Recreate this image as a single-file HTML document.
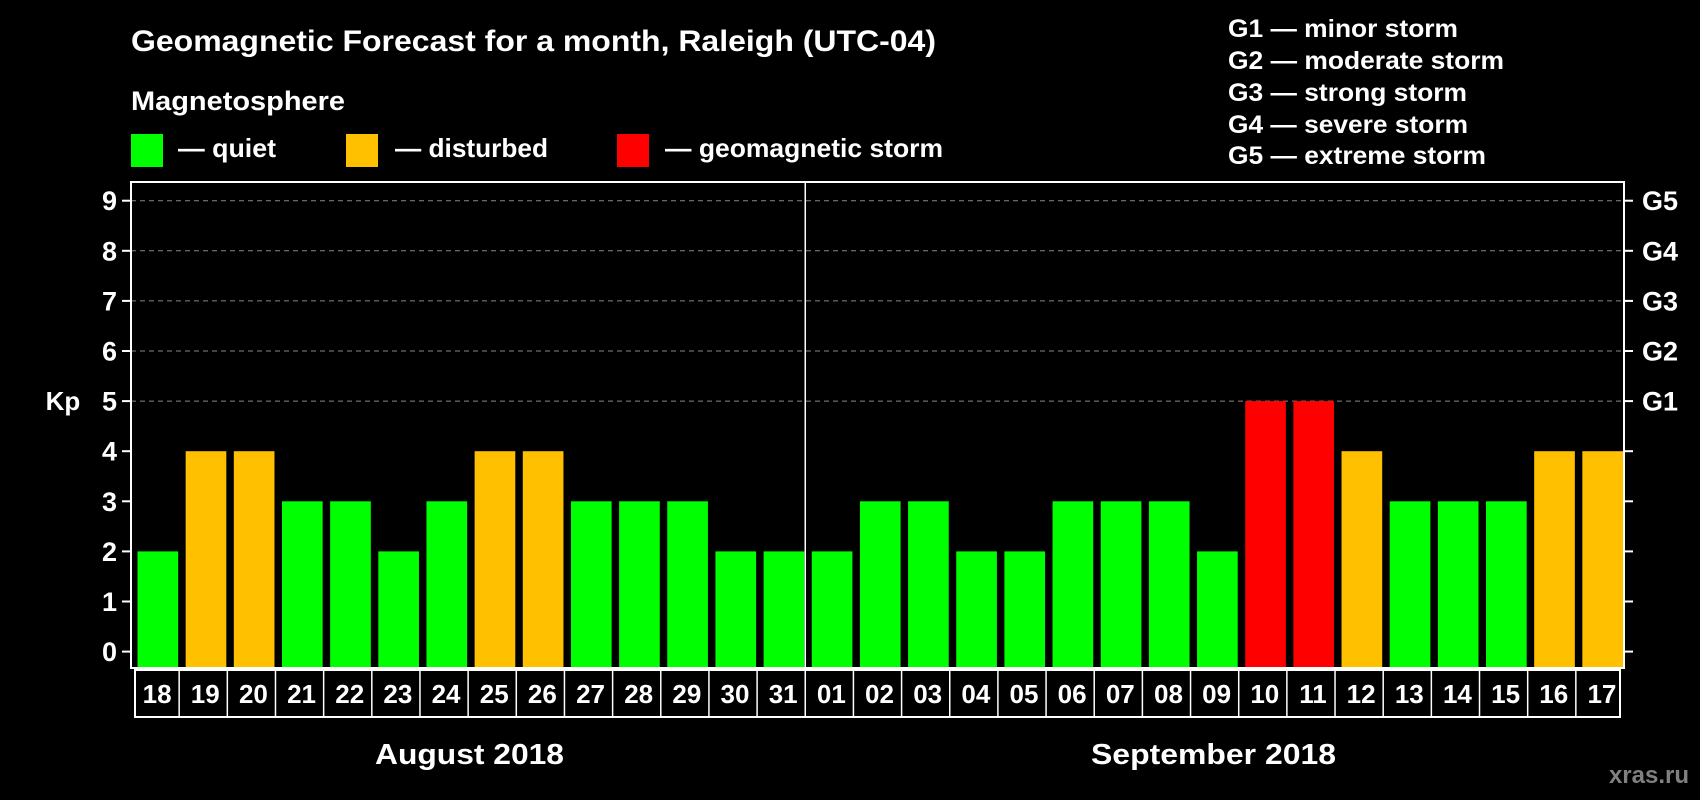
<!DOCTYPE html>
<html><head><meta charset="utf-8"><style>
html,body{margin:0;padding:0;background:#000;}
svg{display:block;font-family:"Liberation Sans",sans-serif;font-weight:bold;}
</style></head><body>
<svg id="c" width="1700" height="800" viewBox="0 0 1700 800">
<text x="131" y="51" fill="#fff" font-size="30" textLength="805" lengthAdjust="spacingAndGlyphs">Geomagnetic Forecast for a month, Raleigh (UTC-04)</text>
<text x="131" y="110" fill="#fff" font-size="27" textLength="214" lengthAdjust="spacingAndGlyphs">Magnetosphere</text>
<rect x="131" y="134" width="32" height="33" fill="#00ff00"/>
<text x="178" y="157" fill="#fff" font-size="26" textLength="98" lengthAdjust="spacingAndGlyphs">— quiet</text>
<rect x="346" y="134" width="32" height="33" fill="#ffc000"/>
<text x="395" y="157" fill="#fff" font-size="26" textLength="153" lengthAdjust="spacingAndGlyphs">— disturbed</text>
<rect x="617" y="134" width="32" height="33" fill="#ff0000"/>
<text x="665" y="157" fill="#fff" font-size="26" textLength="278" lengthAdjust="spacingAndGlyphs">— geomagnetic storm</text>
<g fill="#fff" font-size="25">
<text x="1228" y="37" textLength="230" lengthAdjust="spacingAndGlyphs">G1 — minor storm</text>
<text x="1228" y="69" textLength="276" lengthAdjust="spacingAndGlyphs">G2 — moderate storm</text>
<text x="1228" y="101" textLength="239" lengthAdjust="spacingAndGlyphs">G3 — strong storm</text>
<text x="1228" y="133" textLength="240" lengthAdjust="spacingAndGlyphs">G4 — severe storm</text>
<text x="1228" y="164" textLength="258" lengthAdjust="spacingAndGlyphs">G5 — extreme storm</text>
</g>
<text x="63" y="410" fill="#fff" font-size="26" text-anchor="middle">Kp</text>
<text x="375" y="764" fill="#fff" font-size="29" textLength="189" lengthAdjust="spacingAndGlyphs">August 2018</text>
<text x="1091" y="764" fill="#fff" font-size="29" textLength="245" lengthAdjust="spacingAndGlyphs">September 2018</text>
<text x="1689" y="783" fill="#808080" font-size="24" text-anchor="end">xras.ru</text>
<g id="plot"></g>
</svg>
<script>
const days = ["18","19","20","21","22","23","24","25","26","27","28","29","30","31","01","02","03","04","05","06","07","08","09","10","11","12","13","14","15","16","17"];
const kpValues = [2,4,4,3,3,2,3,4,4,3,3,3,2,2,2,3,3,2,2,3,3,3,2,5,5,4,3,3,3,4,4];
const yTicks = [0,1,2,3,4,5,6,7,8,9];
const gLabels = ["G1","G2","G3","G4","G5"];
const gLevels = [5,6,7,8,9];
const monthSplitIndex = 14;

const NS="http://www.w3.org/2000/svg";
const L=131,R=1624,T=182,B=668;
const slot=(R-L)/days.length;
const y0=651.6, unit=50.1;
const yS=v=>y0-v*unit;
const xS=i=>L+i*slot;
const g=document.getElementById('plot');
function mk(tag,attrs){const e=document.createElementNS(NS,tag);for(const k in attrs)e.setAttribute(k,attrs[k]);g.appendChild(e);return e;}
gLevels.forEach(v=>{
 const e=mk('line',{x1:L,x2:R,y1:yS(v),y2:yS(v),stroke:'#888','stroke-width':1,'stroke-dasharray':'5,4'});
 
 
});
kpValues.forEach((v,i)=>{
 const col=v>=5?'#ff0000':(v>=4?'#ffc000':'#00ff00');
 const e=mk('rect',{x:xS(i)+6.5,y:yS(v),width:slot-7.5,height:B-yS(v),fill:col});
 
 
});
const fr=mk('rect',{x:L,y:T,width:R-L,height:B-T,fill:'none',stroke:'#fff','stroke-width':2});


const sep=mk('line',{x1:xS(monthSplitIndex),x2:xS(monthSplitIndex),y1:T,y2:B,stroke:'#fff','stroke-width':1.5});


yTicks.forEach(v=>{
 const t=mk('line',{x1:L-9,x2:L,y1:yS(v),y2:yS(v),stroke:'#fff','stroke-width':2});
 
 
 const t2=mk('line',{x1:R,x2:R+9,y1:yS(v),y2:yS(v),stroke:'#fff','stroke-width':2});
 
 
 const tx=mk('text',{x:117,y:yS(v)+9.5,fill:'#fff','font-size':27,'text-anchor':'end'});
 tx.textContent=v;
 
 
});
gLabels.forEach((s,i)=>{
 const tx=mk('text',{x:1642,y:yS(gLevels[i])+9.5,fill:'#fff','font-size':27});
 tx.textContent=s;
 
 
});
const bx=mk('rect',{x:135,y:670,width:1620-135,height:47,fill:'none',stroke:'#fff','stroke-width':2});


days.forEach((d,i)=>{
 if(i>0){const l=mk('line',{x1:xS(i),x2:xS(i),y1:670,y2:717,stroke:'#fff','stroke-width':1.5});
 
 }
 const tx=mk('text',{x:xS(i)+slot/2+2,y:703,fill:'#fff','font-size':26,'text-anchor':'middle'});
 tx.textContent=d;
 
 
});
</script>
</body></html>
